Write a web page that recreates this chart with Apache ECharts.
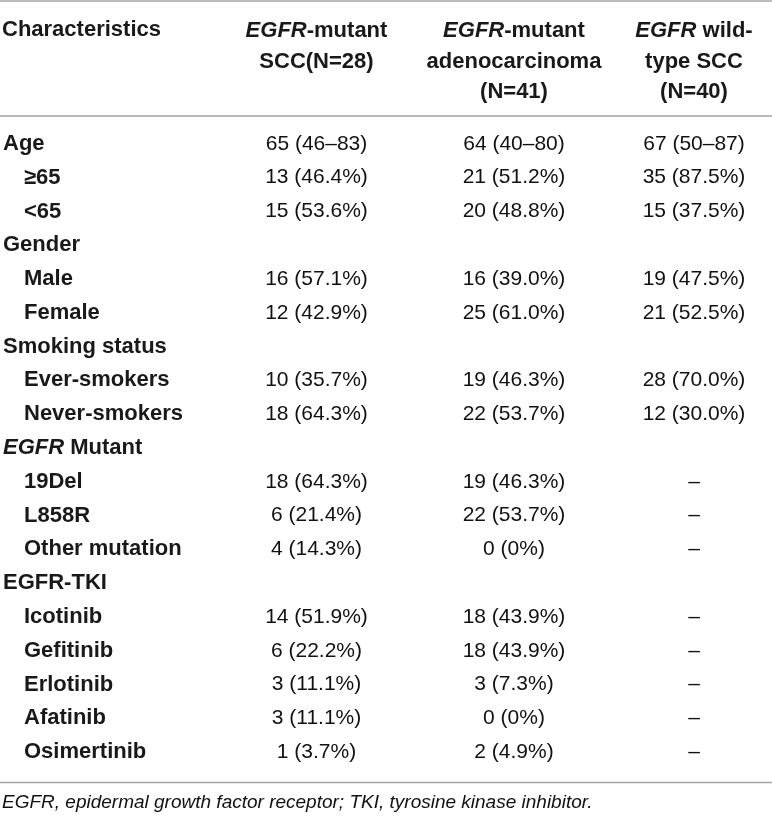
<!DOCTYPE html>
<html>
<head>
<meta charset="utf-8">
<script src="https://cdn.jsdelivr.net/npm/echarts@6/dist/echarts.min.js"></script>
<style>
  html, body { margin: 0; padding: 0; background: #fff; }
  #table-chart { width: 772px; height: 816px; }
</style>
</head>
<body>
<div id="table-chart"></div>
<script>
// table content
const headers = [
    'EGFR-mutant\nSCC(N=28)',
    'EGFR-mutant\nadenocarcinoma\n(N=41)',
    'EGFR wild-\ntype SCC\n(N=40)'
];
const rows = [
    'Age', '≥65', '<65',
    'Gender', 'Male', 'Female',
    'Smoking status', 'Ever-smokers', 'Never-smokers',
    'EGFR Mutant', '19Del', 'L858R', 'Other mutation',
    'EGFR-TKI', 'Icotinib', 'Gefitinib', 'Erlotinib', 'Afatinib', 'Osimertinib'
];
const groupRows = ['Age', 'Gender', 'Smoking status', 'EGFR Mutant', 'EGFR-TKI'];
const sccMutant = [
    '65 (46–83)', '13 (46.4%)', '15 (53.6%)',
    '', '16 (57.1%)', '12 (42.9%)',
    '', '10 (35.7%)', '18 (64.3%)',
    '', '18 (64.3%)', '6 (21.4%)', '4 (14.3%)',
    '', '14 (51.9%)', '6 (22.2%)', '3 (11.1%)', '3 (11.1%)', '1 (3.7%)'
];
const adenoMutant = [
    '64 (40–80)', '21 (51.2%)', '20 (48.8%)',
    '', '16 (39.0%)', '25 (61.0%)',
    '', '19 (46.3%)', '22 (53.7%)',
    '', '19 (46.3%)', '22 (53.7%)', '0 (0%)',
    '', '18 (43.9%)', '18 (43.9%)', '3 (7.3%)', '0 (0%)', '2 (4.9%)'
];
const sccWild = [
    '67 (50–87)', '35 (87.5%)', '15 (37.5%)',
    '', '19 (47.5%)', '21 (52.5%)',
    '', '28 (70.0%)', '12 (30.0%)',
    '', '–', '–', '–',
    '', '–', '–', '–', '–', '–'
];
const footnote = 'EGFR, epidermal growth factor receptor; TKI, tyrosine kinase inhibitor.';

const columns = [sccMutant, adenoMutant, sccWild];

const FONT = '"Liberation Sans", Arial, Helvetica, sans-serif';
const INK = '#1a1818';
const BODY_INK = '#111111';
const RULE = '#a3a3a3';
const BOLD_SIZE = 22;

// column bands (left, width) and body area
const colBands = [[220, 192], [412, 204], [616, 162]];
const bodyTop = 127;
const bodyHeight = 642;

// italic gene name, except in "EGFR-TKI"
function markGene(line, plain, italic) {
    if (/^EGFR[ -]/.test(line) && line !== 'EGFR-TKI') {
        return '{' + italic + '|EGFR}{' + plain + '|' + line.slice(4) + '}';
    }
    return '{' + plain + '|' + line + '}';
}

const chart = echarts.init(document.getElementById('table-chart'));

const grids = [], xAxes = [], yAxes = [], series = [];
colBands.forEach(function (band, k) {
    grids.push({ left: band[0], width: band[1], top: bodyTop, height: bodyHeight });
    xAxes.push({
        type: 'category',
        gridIndex: k,
        position: 'top',
        data: [headers[k]],
        axisLine: { show: false },
        axisTick: { show: false },
        splitLine: { show: false },
        axisLabel: {
            interval: 0,
            margin: 111,
            verticalAlign: 'top',
            align: 'center',
            formatter: function (v) {
                return v.split('\n').map(function (l) { return markGene(l, 'b', 'i'); }).join('\n');
            },
            rich: {
                b: { fontFamily: FONT, fontSize: BOLD_SIZE, fontWeight: 'bold', color: INK, lineHeight: 30.5 },
                i: { fontFamily: FONT, fontSize: BOLD_SIZE, fontWeight: 'bold', fontStyle: 'italic', color: INK, lineHeight: 30.5 }
            }
        }
    });
    yAxes.push({
        type: 'category',
        gridIndex: k,
        inverse: true,
        data: rows,
        show: k === 0,
        axisLine: { show: false },
        axisTick: { show: false },
        splitLine: { show: false },
        axisLabel: {
            interval: 0,
            align: 'left',
            margin: band[0] - 2,
            formatter: function (v) {
                if (groupRows.indexOf(v) >= 0) return markGene(v, 'g', 'gi');
                return '{s|' + v + '}';
            },
            rich: {
                g: { fontFamily: FONT, fontSize: BOLD_SIZE, fontWeight: 'bold', color: INK },
                gi: { fontFamily: FONT, fontSize: BOLD_SIZE, fontWeight: 'bold', fontStyle: 'italic', color: INK },
                s: { fontFamily: FONT, fontSize: BOLD_SIZE, fontWeight: 'bold', color: INK, padding: [0, 0, 0, 21] }
            }
        }
    });
    series.push({
        type: 'scatter',
        xAxisIndex: k,
        yAxisIndex: k,
        symbolSize: 1,
        silent: true,
        itemStyle: { color: 'rgba(0,0,0,0)' },
        label: {
            show: true,
            position: 'inside',
            align: 'center',
            verticalAlign: 'middle',
            fontFamily: FONT,
            fontSize: 21,
            color: BODY_INK,
            textBorderWidth: 0,
            opacity: 1,
            formatter: function (p) { return p.value[2]; }
        },
        data: columns[k]
            .map(function (txt, i) { return [0, i, txt]; })
            .filter(function (d) { return d[2] !== ''; })
    });
});

chart.setOption({
    animation: false,
    backgroundColor: '#ffffff',
    title: [
        {
            text: 'Characteristics',
            left: 2, top: 15, padding: 0,
            textStyle: { fontFamily: FONT, fontSize: BOLD_SIZE, fontWeight: 'bold', color: INK, lineHeight: 30.5 }
        },
        {
            text: footnote,
            left: 2, top: 792, padding: 0,
            textStyle: { fontFamily: FONT, fontSize: 19, fontWeight: 'normal', fontStyle: 'italic', color: BODY_INK, lineHeight: 22 }
        }
    ],
    grid: grids,
    xAxis: xAxes,
    yAxis: yAxes,
    series: series,
    graphic: [
        { type: 'line', shape: { x1: 0, y1: 1, x2: 772, y2: 1 }, style: { stroke: RULE, lineWidth: 1.5 } },
        { type: 'line', shape: { x1: 0, y1: 116, x2: 772, y2: 116 }, style: { stroke: RULE, lineWidth: 1.5 } },
        { type: 'line', shape: { x1: 0, y1: 782.5, x2: 772, y2: 782.5 }, style: { stroke: RULE, lineWidth: 1.5 } }
    ]
});
</script>
</body>
</html>
